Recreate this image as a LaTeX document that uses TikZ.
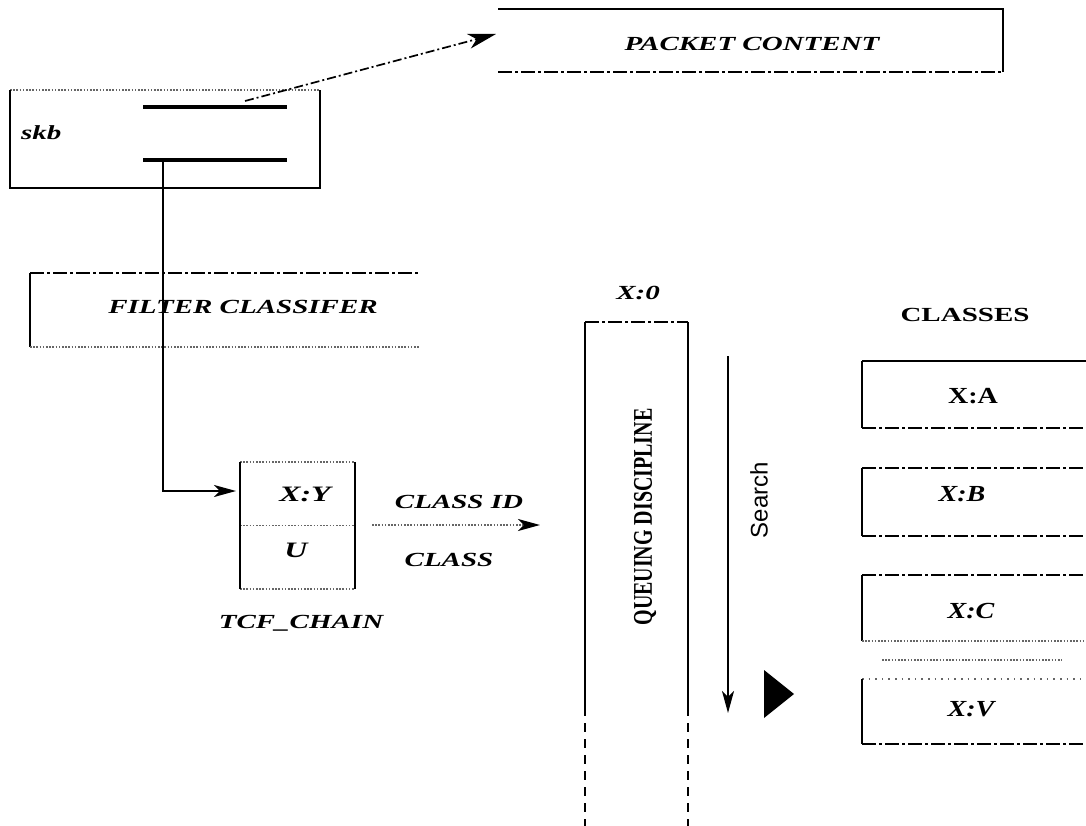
\documentclass[tikz,border=0pt]{standalone}
\usepackage{fontspec}
\setmainfont{Liberation Serif}
\newfontfamily\wideserif[FakeStretch=1.45]{Liberation Serif}
\newfontfamily\midserif[FakeStretch=1.22]{Liberation Serif}
\newfontfamily\narrowserif[FakeStretch=0.74]{Liberation Serif}
\newfontfamily\plainsans{Liberation Sans}
\usetikzlibrary{arrows.meta}

\begin{document}
\begin{tikzpicture}[x=1pt,y=-1pt,
  lbl/.style={font=\wideserif\fontsize{20}{20}\selectfont\bfseries\itshape, inner sep=0pt},
  lblup/.style={font=\wideserif\fontsize{20}{20}\selectfont\bfseries, inner sep=0pt},
  cls/.style={font=\midserif\fontsize{23}{23}\selectfont\bfseries\itshape, inner sep=0pt},
  clsup/.style={font=\midserif\fontsize{23}{23}\selectfont\bfseries, inner sep=0pt},
  frame/.style={inner sep=0pt, outer sep=0pt},
  edge/.style={line width=2.2pt},
  dd/.style={line width=2.2pt, dash pattern=on 14pt off 3pt on 3pt off 3pt},
  dot/.style={line width=1.7pt, black!60, dash pattern=on 1.6pt off 1.6pt},
  sparse/.style={line width=1.7pt, black!60, dash pattern=on 1.6pt off 5pt},
  bar/.style={line width=4.5pt},
  tip/.style={-{Stealth[length=22pt,width=12pt,inset=6pt,color=black]}},
  bigtip/.style={-{Stealth[length=28pt,width=15pt,inset=8pt,color=black]}},
]
\useasboundingbox (0,0) rectangle (1086,826);

% packet content buffer
\node[frame, minimum width=505pt, minimum height=63pt] (pkt) at (750.5,40.5) {};
\draw[edge] (pkt.north west) -- (pkt.north east) -- (pkt.south east);
\draw[dd] (pkt.south west) -- (pkt.south east);
\node[lbl] (pkttxt) at (752,43.5) {PACKET CONTENT};

% socket buffer with its two pointers
\node[frame, minimum width=310pt, minimum height=98pt] (skb) at (165,139) {};
\draw[dot] (skb.north west) -- (skb.north east);
\draw[edge] (skb.north west) -- (skb.south west) -- (skb.south east) -- (skb.north east);
\node[lbl, anchor=west] (skbtxt) at (21,133) {skb};
\coordinate (b1w) at (143,107);
\coordinate (b1e) at (287,107);
\coordinate (b2w) at (143,160);
\coordinate (b2e) at (287,160);
\draw[bar] (b1w) -- (b1e);
\draw[bar] (b2w) -- (b2e);

% data pointer to the packet content
\coordinate (ptr) at (245,101);
\coordinate (pktin) at (496,34);
\draw[line width=1.7pt, dash pattern=on 9pt off 3pt on 2pt off 3pt, bigtip] (ptr) -- (pktin);

% filter classifier
\node[frame, minimum width=390pt, minimum height=74pt] (fc) at (225,310) {};
\draw[dd] (fc.north west) -- (fc.north east);
\draw[edge] (fc.north west) -- (fc.south west);
\draw[dot] (fc.south west) -- (fc.south east);
\node[lbl] (fctxt) at (243,307) {FILTER CLASSIFER};

% tcf chain
\node[frame, minimum width=115pt, minimum height=127pt] (tcf) at (297.5,525.5) {};
\draw[dot] (tcf.north west) -- (tcf.north east);
\draw[dot] (tcf.west) -- (tcf.east);
\draw[dot] (tcf.south west) -- (tcf.south east);
\draw[edge] (tcf.north west) -- (tcf.south west);
\draw[edge] (tcf.north east) -- (tcf.south east);
\node[lbl, font=\wideserif\fontsize{22}{22}\selectfont\bfseries\itshape] (xy) at (305,494) {X:Y};
\node[lbl, font=\wideserif\fontsize{22}{22}\selectfont\bfseries\itshape] (u) at (296,550) {U};
\node[lbl] (tcflbl) at (301,623) {TCF\_CHAIN};

% packet goes from the skb into the tcf chain
\coordinate (drop) at (163,162);
\coordinate (tcfin) at (236,491);
\draw[edge, tip] (drop) |- (tcfin);

% class id handed on to the queuing discipline
\coordinate (cls0) at (372,525);
\coordinate (cls1) at (540,525);
\draw[dot, tip] (cls0) -- (cls1);
\node[lbl] (clsid) at (459,502) {CLASS ID};
\node[lbl] (clstxt) at (449,560) {CLASS};

% queuing discipline
\node[frame, minimum width=103pt, minimum height=385pt] (qd) at (636.5,514.5) {};
\draw[dd] (qd.north west) -- (qd.north east);
\draw[edge] (qd.north west) -- (qd.south west);
\draw[edge] (qd.north east) -- (qd.south east);
\coordinate (qdw) at (585,826);
\coordinate (qde) at (688,826);
\draw[line width=2.2pt, dash pattern=on 9pt off 7pt] (qd.south west) -- (qdw);
\draw[line width=2.2pt, dash pattern=on 9pt off 7pt] (qd.south east) -- (qde);
\node[lbl] (x0) at (638,293) {X:0};
\node[font=\narrowserif\fontsize{27}{27}\selectfont\bfseries, inner sep=0pt, rotate=90] (qdtxt) at (645,517) {QUEUING DISCIPLINE};

% search along the classes
\coordinate (s0) at (728,356);
\coordinate (s1) at (728,713);
\draw[edge, tip] (s0) -- (s1);
\node[font=\plainsans\fontsize{24}{24}\selectfont, inner sep=0pt, rotate=90] (srch) at (759,500) {Search};
\fill (764,670) -- (764,718) -- (794,694) -- cycle;

% classes
\node[lblup] (clshead) at (965,315) {CLASSES};

\node[frame, minimum width=224pt, minimum height=67pt] (ca) at (974,394.5) {};
\draw[edge] (ca.north west) -- (ca.north east);
\draw[edge] (ca.north west) -- (ca.south west);
\draw[dd] (ca.south west) -- (ca.south east);
\node[clsup] (catxt) at (973,396) {X:A};

\node[frame, minimum width=224pt, minimum height=68pt] (cb) at (974,502) {};
\draw[dd] (cb.north west) -- (cb.north east);
\draw[edge] (cb.north west) -- (cb.south west);
\draw[dd] (cb.south west) -- (cb.south east);
\node[cls] (cbtxt) at (962,494) {X:B};

\node[frame, minimum width=224pt, minimum height=66pt] (cc) at (974,608) {};
\draw[dd] (cc.north west) -- (cc.north east);
\draw[edge] (cc.north west) -- (cc.south west);
\draw[dot] (cc.south west) -- (cc.south east);
\node[cls] (cctxt) at (971,611) {X:C};

\coordinate (ell0) at (882,660);
\coordinate (ell1) at (1062,660);
\draw[dot] (ell0) -- (ell1);

\node[frame, minimum width=224pt, minimum height=65pt] (cv) at (974,711.5) {};
\draw[sparse] (cv.north west) -- (cv.north east);
\draw[edge] (cv.north west) -- (cv.south west);
\draw[dd] (cv.south west) -- (cv.south east);
\node[cls] (cvtxt) at (971,709) {X:V};
\end{tikzpicture}
\end{document}
